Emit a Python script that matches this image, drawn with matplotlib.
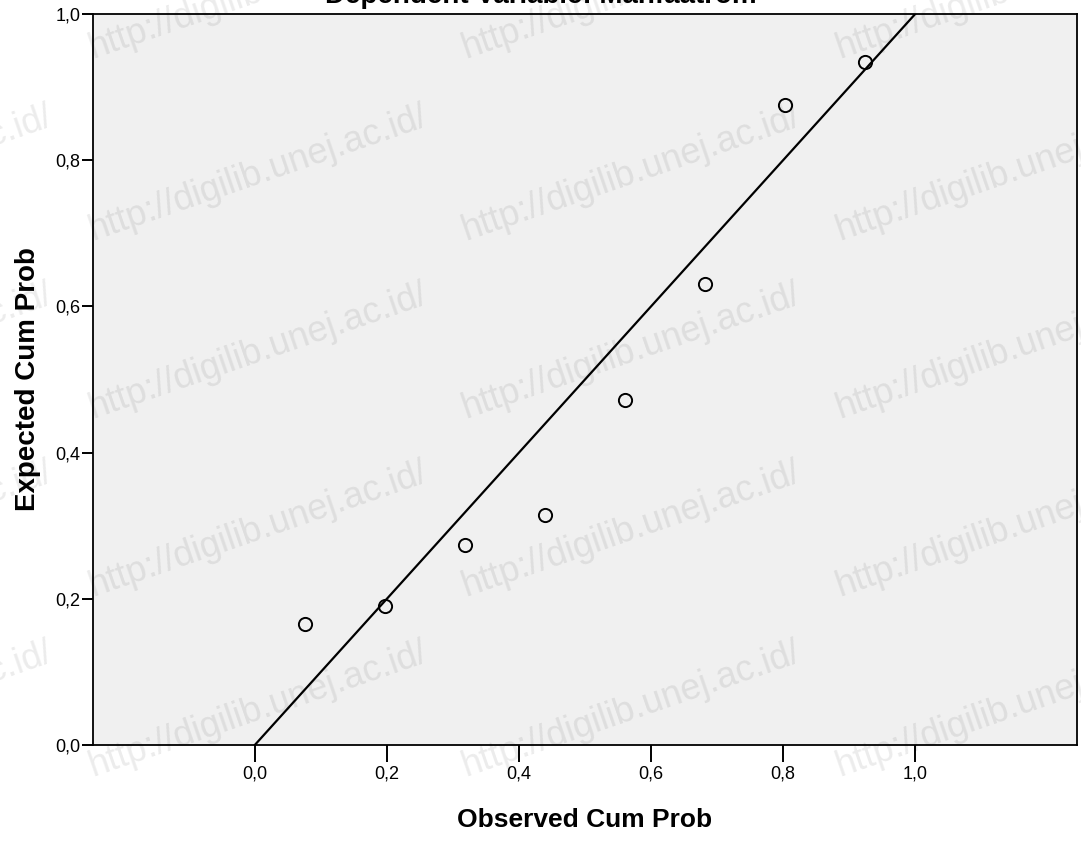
import matplotlib
matplotlib.use("Agg")
import matplotlib.pyplot as plt
import numpy as np

plt.rcParams['font.family'] = ['Liberation Sans', 'DejaVu Sans']

# P-P plot data (observed vs expected cumulative probability)
observed = [0.076, 0.197, 0.318, 0.439, 0.561, 0.682, 0.803, 0.924]
expected = [0.166, 0.190, 0.274, 0.315, 0.472, 0.631, 0.875, 0.934]
tick_vals = [0.0, 0.2, 0.4, 0.6, 0.8, 1.0]
tick_labels = ['0,0', '0,2', '0,4', '0,6', '0,8', '1,0']
title = 'Dependent Variable: Manfaatrom'
watermark = 'http://digilib.unej.ac.id/'

fig = plt.figure(figsize=(10.81, 8.43), dpi=100)
ax = fig.add_axes([93/1081, 1-745/843, (1077-93)/1081, (745-14)/843])
ax.set_facecolor('#f0f0f0')

# reference line
ax.plot([0, 1], [0, 1], color='black', lw=1.6, zorder=2)
ax.plot(observed, expected, 'o', mfc='none', mec='black', ms=9.5, mew=1.4, zorder=3)

ax.set_xlim(-0.245, 1.245)
ax.set_ylim(0, 1)
ax.set_xticks(tick_vals)
ax.set_xticklabels(tick_labels)
ax.set_yticks(tick_vals)
ax.set_yticklabels(tick_labels)
ax.tick_params(axis='x', direction='out', length=12, width=1.4, labelsize=13, pad=3)
ax.tick_params(axis='y', direction='out', length=8, width=1.4, labelsize=13, pad=1)
for s in ax.spines.values():
    s.set_linewidth(1.3)

ax.set_xlabel('Observed Cum Prob', fontsize=19, fontweight='bold', labelpad=18)
ax.set_ylabel('Expected Cum Prob', fontsize=20, fontweight='bold', labelpad=10)

# title is cropped at the top of the image
fig.text(0.5, 1-3/843, title, ha='center', va='baseline', fontsize=20, fontweight='bold')

# watermark grid
for x0 in [-282, 93, 466, 840]:
    for y0 in [58, 240, 418, 596, 776]:
        fig.text(x0/1081, 1-y0/843, watermark, rotation=19, rotation_mode='anchor',
                 ha='left', va='baseline', fontsize=26, color='black', alpha=0.08, zorder=10)

fig.savefig('out.png', dpi=100)
